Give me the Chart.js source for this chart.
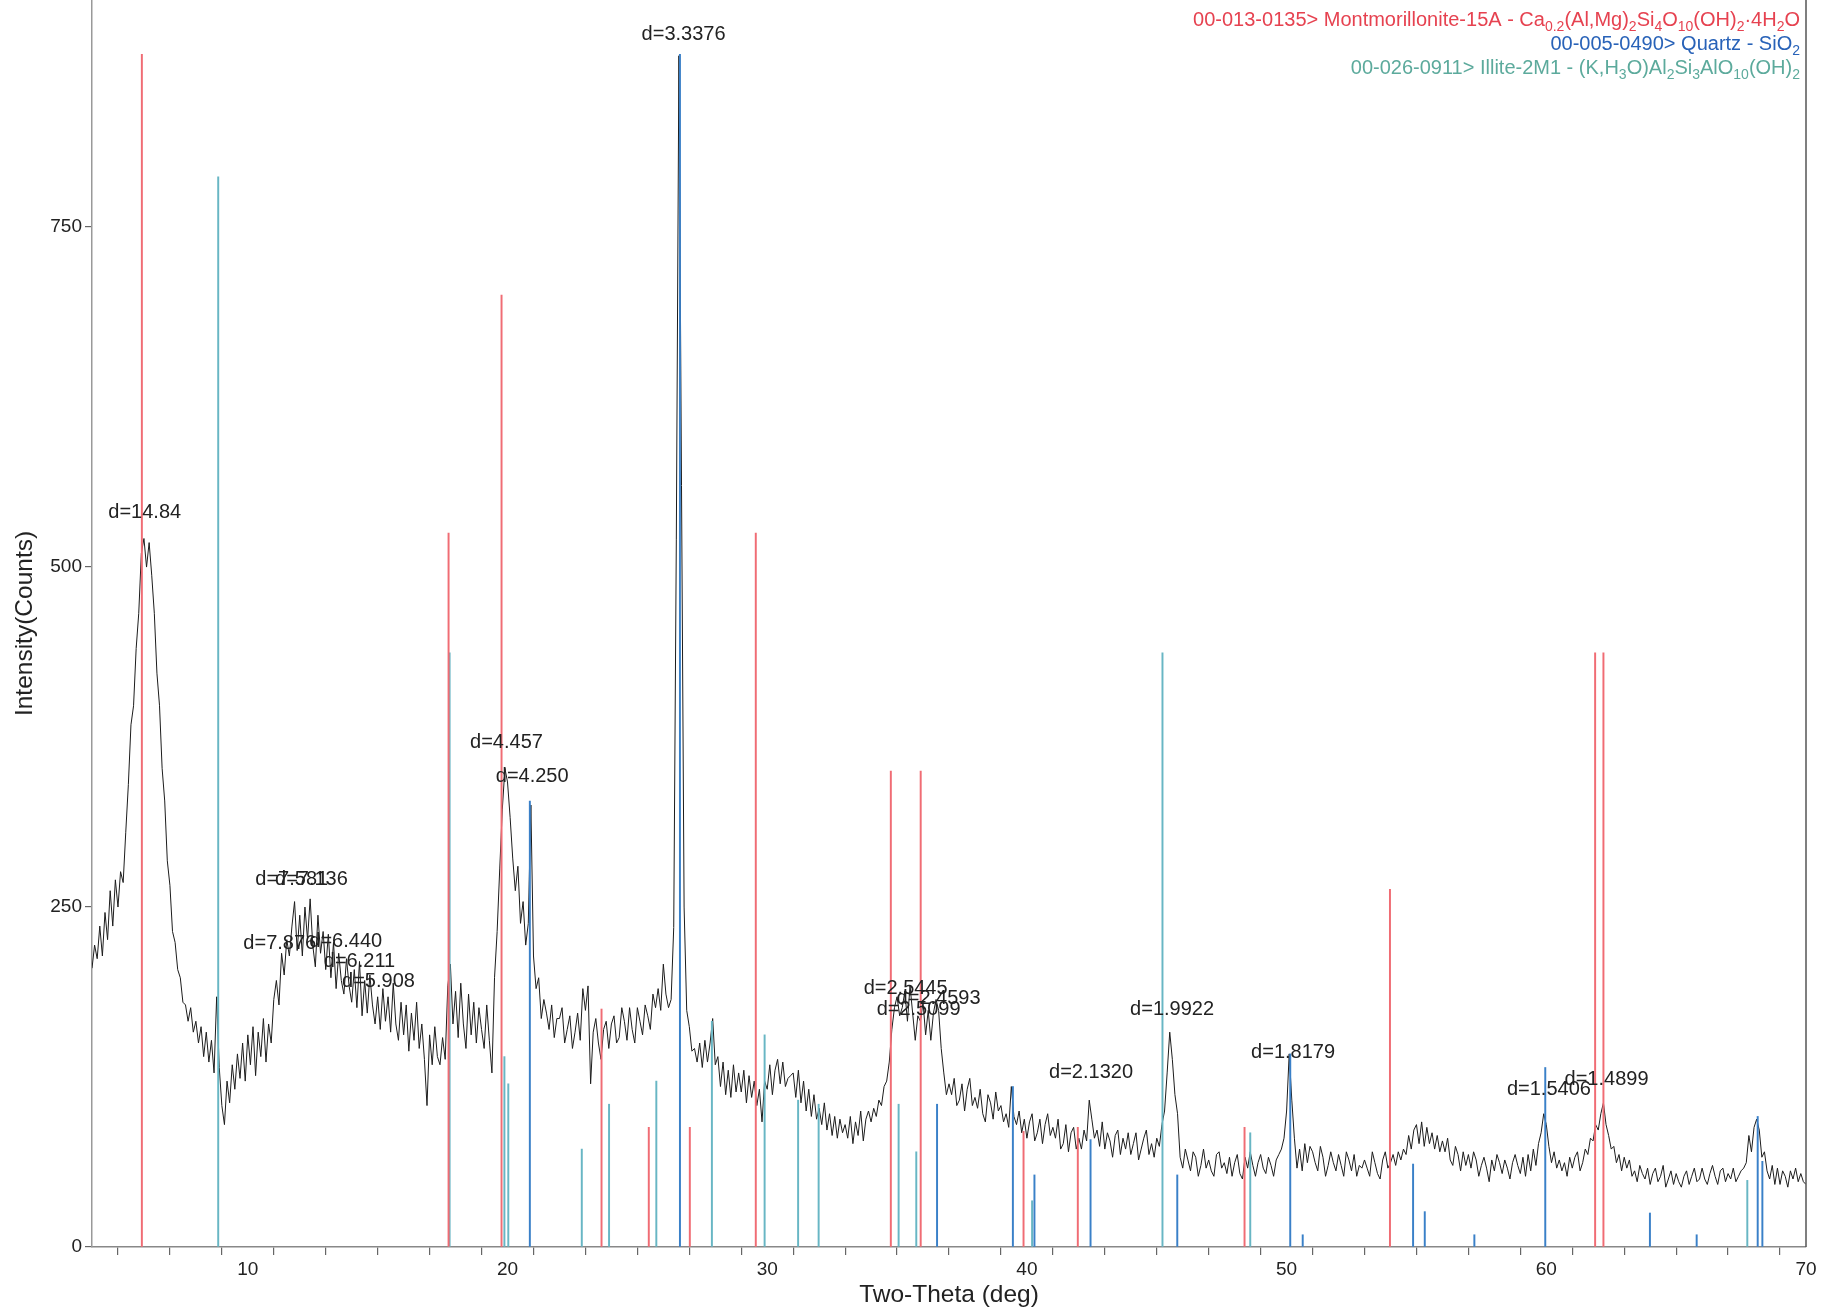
<!DOCTYPE html>
<html>
<head>
<meta charset="utf-8">
<script src="https://cdn.jsdelivr.net/npm/chart.js@4/dist/chart.umd.min.js"></script>
<style>
html,body{margin:0;padding:0;background:#fff;}
#wrap{width:1839px;height:1314px;position:relative;}
canvas{display:block;}
</style>
</head>
<body>
<div id="wrap"><canvas id="c" width="1839" height="1314"></canvas></div>
<script>
// ---- scan definition ----
const scanStart = 4;
const scanStep = 0.1;
// measured intensity (counts), 4.0 .. 70.0 deg step 0.1
const traceCounts = [
205,222,212,236,214,246,226,262,236,270,
250,276,268,305,340,384,398,440,466,510,
521,500,518,494,466,422,398,352,328,284,
266,232,224,204,198,180,178,166,176,158,
166,150,162,140,158,136,152,128,184,132,
104,90,122,106,134,116,142,124,150,122,
156,134,162,126,158,140,168,136,164,150,
182,196,178,216,200,226,214,236,254,218,
244,214,250,226,256,222,206,244,216,232,
204,230,198,224,190,216,196,186,212,192,
180,204,176,210,170,196,172,200,178,164,
184,160,190,166,184,158,194,164,152,180,
156,178,144,172,152,180,146,164,138,104,
156,134,162,140,134,154,138,192,208,164,
188,154,194,164,146,186,156,180,150,176,
160,146,178,152,128,198,232,278,322,352,
342,316,286,262,280,238,254,222,238,325,
214,190,198,168,182,172,160,178,154,168,
168,176,150,160,170,146,158,172,152,190,
174,192,120,158,168,150,138,160,166,146,
164,170,150,154,176,166,152,176,160,150,
176,166,156,178,170,160,186,176,190,174,
208,186,176,182,235,520,876,560,250,174,
162,144,146,136,150,132,152,136,150,168,
134,140,118,136,112,130,110,134,114,128,
114,130,106,126,110,122,104,116,92,122,
116,134,112,130,138,120,136,118,124,126,
128,110,130,106,122,100,116,96,112,94,
102,90,106,86,98,82,96,80,94,84,
90,80,96,76,92,82,100,78,94,100,
92,102,96,108,104,118,122,136,160,176,
184,170,176,188,166,192,172,152,170,166,
180,156,174,152,172,182,174,146,128,112,
120,112,124,104,108,120,100,116,124,104,
110,102,116,98,92,112,106,94,114,100,
104,92,98,88,118,96,90,100,84,94,
80,92,98,78,84,94,76,90,98,82,
88,80,94,72,76,90,70,84,88,72,
80,72,86,78,108,94,80,86,74,92,
72,84,78,66,82,86,68,80,72,84,
68,76,84,64,72,80,86,68,76,66,
80,74,90,100,128,158,138,112,98,66,
58,72,64,56,70,66,52,60,72,58,
64,56,52,68,70,58,62,54,66,52,
62,68,54,50,66,58,70,60,52,62,
68,58,54,66,60,52,64,68,72,80,
100,142,108,80,58,72,56,76,62,74,
70,62,56,74,66,52,60,70,62,56,
68,60,52,70,64,56,68,52,60,58,
64,58,52,70,62,54,50,64,70,58,
62,68,60,70,64,72,68,82,72,86,
90,76,92,74,88,76,84,72,82,70,
78,70,80,64,60,74,68,56,70,60,
68,58,70,64,52,60,66,58,48,64,
56,68,62,54,64,58,50,62,68,60,
54,66,52,68,56,72,60,76,84,98,
90,74,62,70,58,64,56,62,52,66,
58,66,70,56,62,72,68,80,78,90,
86,98,106,90,82,72,74,62,68,56,
66,58,64,52,56,48,60,54,50,58,
46,54,58,48,52,60,44,50,56,46,
54,48,44,52,56,46,52,58,48,50,
58,50,46,54,60,52,46,56,58,48,
54,50,58,48,52,56,58,62,82,70,
88,94,86,66,70,56,50,60,46,58,
46,56,52,44,56,50,58,48,54,48,
46
];

// reference patterns (stick positions in 2theta, heights in counts)
const montTheta  = [5.92, 17.73, 19.77, 23.62, 25.44, 27.02, 29.56, 34.76, 35.91, 39.87, 41.96, 48.38, 53.98, 61.88, 62.20];
const montCounts = [877, 525, 700, 175, 88, 88, 525, 350, 350, 85, 88, 88, 263, 437, 437];
const quartzTheta  = [20.86, 26.64, 36.54, 39.46, 40.29, 42.45, 45.79, 50.14, 50.62, 54.87, 55.32, 57.23, 59.96, 63.99, 65.79, 68.14, 68.32];
const quartzCounts = [328, 877, 105, 118, 53, 79, 53, 142, 9, 61, 26, 9, 132, 25, 9, 96, 63];
const illiteTheta  = [8.86, 17.77, 19.88, 20.03, 22.86, 23.91, 25.73, 27.87, 29.9, 31.19, 31.98, 35.06, 35.74, 40.2, 45.22, 48.6, 67.74];
const illiteCounts = [787, 437, 140, 120, 72, 105, 122, 166, 156, 108, 105, 105, 70, 34, 437, 84, 49];

// peak annotations
const peakLabelText   = ["d=14.84","d=3.3376","d=7.581","d=7.136","d=7.876","d=6.440","d=6.211","d=5.908","d=4.457","d=4.250","d=2.5445","d=2.4593","d=2.5099","d=1.9922","d=2.1320","d=1.8179","d=1.5406","d=1.4899"];
const peakLabelTheta  = [6.03, 26.78, 11.69, 12.45, 11.23, 13.77, 14.30, 15.03, 19.96, 20.95, 35.33, 36.60, 35.83, 45.59, 42.47, 50.25, 60.10, 62.32];
const peakLabelCounts = [540, 892, 270, 270, 223, 225, 210, 195, 371, 346, 190, 183, 175, 175, 128, 143, 116, 123];

// legend (card labels, with subscript runs)
const legendMont   = [["00-013-0135> Montmorillonite-15A - Ca",0],["0.2",1],["(Al,Mg)",0],["2",1],["Si",0],["4",1],["O",0],["10",1],["(OH)",0],["2",1],["·4H",0],["2",1],["O",0]];
const legendQuartz = [["00-005-0490> Quartz - SiO",0],["2",1]];
const legendIllite = [["00-026-0911> Illite-2M1 - (K,H",0],["3",1],["O)Al",0],["2",1],["Si",0],["3",1],["AlO",0],["10",1],["(OH)",0],["2",1]];

const xMin = 4, xMax = 70, xTickStep = 2, xLabelStep = 10;
const yMin = 0, yMax = 917, yTickStep = 250;
const xTitle = "Two-Theta (deg)";
const yTitle = "Intensity(Counts)";

const COL_MONT = 'rgb(240,108,116)';
const COL_QTZ = 'rgb(58,128,200)';
const COL_ILL = 'rgb(104,182,196)';
const LEG_MONT = 'rgb(230,66,80)';
const LEG_QTZ = 'rgb(40,98,184)';
const LEG_ILL = 'rgb(92,170,156)';
const FONT = "'Liberation Sans', Arial, sans-serif";

Chart.defaults.font.family = FONT;
Chart.defaults.color = '#222';

const traceData = traceCounts.map((c, i) => ({x: +(scanStart + i * scanStep).toFixed(2), y: c}));
const sticks = (th, ct) => th.map((t, i) => ({x: t, y: ct[i]}));

const overlayPlugin = {
  id: 'overlay',
  afterDatasetsDraw(chart) {
    const {ctx, chartArea: a, scales: {x, y}} = chart;
    ctx.save();
    // right frame
    ctx.strokeStyle = '#555';
    ctx.lineWidth = 1.5;
    ctx.beginPath();
    ctx.moveTo(a.right, a.top);
    ctx.lineTo(a.right, a.bottom);
    ctx.stroke();
    // peak labels
    ctx.fillStyle = '#222';
    ctx.font = "20px " + FONT;
    ctx.textAlign = 'center';
    ctx.textBaseline = 'middle';
    peakLabelText.forEach((t, i) => {
      ctx.fillText(t, x.getPixelForValue(peakLabelTheta[i]), y.getPixelForValue(peakLabelCounts[i]));
    });
    // legend
    const size = 20;
    const drawRich = (runs, color, baseY) => {
      const w = runs.map(r => {
        ctx.font = (r[1] ? Math.round(size * 0.68) : size) + "px " + FONT;
        return ctx.measureText(r[0]).width;
      });
      const total = w.reduce((s, v) => s + v, 0);
      let px = a.right - 6 - total;
      ctx.fillStyle = color;
      ctx.textAlign = 'left';
      ctx.textBaseline = 'alphabetic';
      runs.forEach((r, i) => {
        ctx.font = (r[1] ? Math.round(size * 0.68) : size) + "px " + FONT;
        ctx.fillText(r[0], px, baseY + (r[1] ? 5 : 0));
        px += w[i];
      });
    };
    drawRich(legendMont, LEG_MONT, a.top + 26);
    drawRich(legendQuartz, LEG_QTZ, a.top + 50);
    drawRich(legendIllite, LEG_ILL, a.top + 74);
    ctx.restore();
  }
};

new Chart(document.getElementById('c'), {
  type: 'line',
  data: {
    datasets: [
      {type: 'bar', label: 'Montmorillonite-15A', data: sticks(montTheta, montCounts), backgroundColor: COL_MONT, barThickness: 1.3, grouped: false, order: 1},
      {type: 'bar', label: 'Quartz', data: sticks(quartzTheta, quartzCounts), backgroundColor: COL_QTZ, barThickness: 1.3, grouped: false, order: 0},
      {type: 'bar', label: 'Illite-2M1', data: sticks(illiteTheta, illiteCounts), backgroundColor: COL_ILL, barThickness: 1.3, grouped: false, order: 1},
      {type: 'line', label: 'Scan', data: traceData, borderColor: '#1c1c1c', borderWidth: 1, pointRadius: 0, tension: 0, fill: false, order: 2}
    ]
  },
  options: {
    responsive: false,
    animation: false,
    events: [],
    layout: {padding: {left: 0, right: 33, top: 0, bottom: 0}},
    plugins: {legend: {display: false}, tooltip: {enabled: false}},
    scales: {
      x: {
        type: 'linear', min: xMin, max: xMax, offset: false,
        grid: {drawOnChartArea: false, drawTicks: true, tickLength: 8, color: '#666', lineWidth: 1.2},
        border: {display: true, color: '#888', width: 1.5},
        ticks: {stepSize: xTickStep, autoSkip: false, maxRotation: 0, padding: 3, color: '#222', font: {size: 19},
          callback: v => (v % xLabelStep === 0 ? String(v) : '')},
        title: {display: true, text: xTitle, color: '#222', font: {size: 24.5}, padding: {top: 0, bottom: 4}},
        afterFit: s => { s.height = 67; s.paddingLeft = 0; s.paddingRight = 0; }
      },
      y: {
        type: 'linear', min: yMin, max: yMax,
        grid: {drawOnChartArea: false, drawTicks: true, tickLength: 7, color: '#666', lineWidth: 1.2},
        border: {display: true, color: '#999', width: 1.5},
        ticks: {stepSize: yTickStep, padding: 3, color: '#222', font: {size: 19}},
        afterBuildTicks: s => { s.ticks = s.ticks.filter(t => t.value % yTickStep === 0); },
        title: {display: true, text: yTitle, color: '#222', font: {size: 24.5}, padding: {top: 11, bottom: 0}},
        afterFit: s => { s.width = 92; s.paddingTop = 0; s.paddingBottom = 0; }
      }
    }
  },
  plugins: [overlayPlugin]
});
</script>
</body>
</html>
